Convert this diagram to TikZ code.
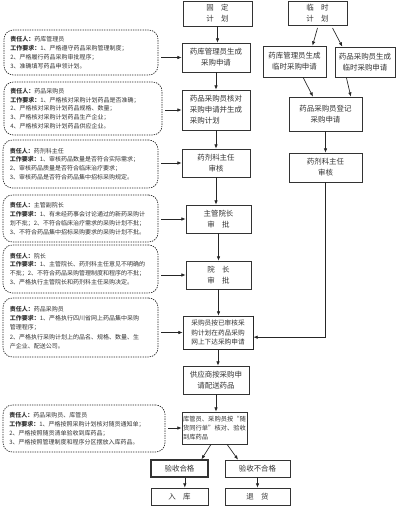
\documentclass[tikz,border=0pt]{standalone}
\usepackage{fontspec}
\setmainfont{Liberation Serif}
\newfontfamily\cjk{Noto Sans CJK SC}
\usetikzlibrary{arrows.meta,calc}
\begin{document}
\begin{tikzpicture}[x=0.75pt,y=-0.75pt,
  wh/.style n args={2}{minimum width=#1*0.75pt,minimum height=#2*0.75pt},
  box/.style={draw=black!80,line width=0.5pt,align=center,inner sep=0pt,text=black!80,
    font=\cjk\fontsize{5.6}{8.2}\selectfont},
  note/.style={draw=black!85,dash pattern=on 1pt off 0.8pt,line width=0.5pt,
    rounded corners=7pt,align=left,inner sep=0pt,text=black!80,
    font=\cjk\fontsize{4.5}{6.6}\selectfont},
  arr/.style={-{Latex[length=3.2pt,width=2.6pt]},line width=0.5pt,draw=black!85}]
\useasboundingbox (0,0) rectangle (400,506);
% main column
\node[box,wh={69}{25}] (b1) at (217.5,13.5) {固\quad 定\\计\quad 划};
\node[box,wh={68}{29}] (b2) at (216,57.5) {药库管理员生成\\采购申请};
\node[box,wh={68}{40},align=left] (b3) at (216,110) {药品采购员核对\\采购申请并生成\\采购计划};
\node[box,wh={68}{28}] (b4) at (216,163) {药剂科主任\\审核};
\node[box,wh={65}{28}] (b5) at (218.5,219) {主管院长\\审\quad 批};
\node[box,wh={65}{28}] (b6) at (218.5,275) {院\quad 长\\审\quad 批};
\node[box,wh={70}{33},font=\cjk\fontsize{5}{7}\selectfont] (b7) at (218,332.5) {采购员按已审核采\\购计划在药品采购\\网上下达采购申请};
\node[box,wh={66}{28}] (b8) at (216,380) {供应商按采购申\\请配送药品};
\node[box,wh={65}{32},align=left,font=\cjk\fontsize{4.7}{6.8}\selectfont] (b9) at (214.5,428) {库管员、采购员按“随\\货同行单”核对、验收\\到库药品};
\node[box,wh={57}{17},line width=1pt] (b10) at (179.5,468.5) {验收合格};
\node[box,wh={65}{17}] (b11) at (257.5,468.5) {验收不合格};
\node[box,wh={57}{17}] (b12) at (179.5,496.5) {入\quad 库};
\node[box,wh={65}{17}] (b13) at (257.5,496.5) {退\quad 货};
\draw[line width=1pt,black!85] (b7.north east) -- (b7.south east) -- (b7.south west);
% right column
\node[box,wh={59}{24}] (r1) at (317.5,13) {临\quad 时\\计\quad 划};
\node[box,wh={63}{31}] (r2a) at (294.5,61.5) {药库管理员生成\\临时采购申请};
\node[box,wh={60}{30}] (r2b) at (365,62) {药品采购员生成\\临时采购申请};
\node[box,wh={73}{34}] (r3) at (325.5,114) {药品采购员登记\\采购申请};
\node[box,wh={73}{29}] (r4) at (325.5,167.5) {药剂科主任\\审核};
% notes
\node[note,wh={154}{45},text width=106pt] (L1) at (81,52.5) {\textbf{责任人：}药库管理员\\\textbf{工作要求：}1、严格遵守药品采购管理制度；\\2、严格履行药品采购审批程序；\\3、准确填写药品申领计划。};
\node[note,wh={158}{53},text width=109pt] (L2) at (83,108.5) {\textbf{责任人：}药品采购员\\\textbf{工作要求：}1、严格核对采购计划药品是否准确；\\2、严格核对采购计划药品规格、数量；\\3、严格核对采购计划药品生产企业；\\4、严格核对采购计划药品供应企业。};
\node[note,wh={155}{48},text width=106pt] (L3) at (80.5,164) {\textbf{责任人：}药剂科主任\\\textbf{工作要求：}1、审核药品数量是否符合实际需求；\\2、审核药品质量是否符合临床治疗要求；\\3、审核药品是否符合药品集中招标采购规定。};
\node[note,wh={155}{47},text width=106pt] (L4) at (80.5,218.5) {\textbf{责任人：}主管副院长\\\textbf{工作要求：}1、有未经药事会讨论通过的新药采购计\\划不批；2、不符合临床治疗需求的采购计划不批；\\3、不符合药品集中招标采购要求的采购计划不批。};
\node[note,wh={155}{48},text width=106pt] (L5) at (80.5,269) {\textbf{责任人：}院长\\\textbf{工作要求：}1、主管院长、药剂科主任意见不明确的\\不批；2、不符合药品采购管理制度和程序的不批；\\3、严格执行主管院长和药剂科主任采购决定。};
\node[note,wh={155}{59},text width=106pt,font=\cjk\fontsize{4.5}{7}\selectfont] (L6) at (80.5,327.5) {\textbf{责任人：}药品采购员\\\textbf{工作要求：}1、严格执行四川省网上药品集中采购\\管理程序；\\2、严格执行采购计划上的品名、规格、数量、生\\产企业、配送公司。};
\node[note,wh={162}{47},text width=112pt] (L7) at (84,428.5) {\textbf{责任人：}药品采购员、库管员\\\textbf{工作要求：}1、严格按照采购计划核对随货通知单；\\2、严格按照随货清单验收到库药品；\\3、严格按照管理制度和程序分区摆放入库药品。};
% main arrows
\draw[arr] (b1.south) -- (b1.south |- b2.north);
\draw[arr] (b2.south) -- (b2.south |- b3.north);
\draw[arr] (b3.south) -- (b3.south |- b4.north);
\draw[arr] (b4.south) -- (b4.south |- b5.north);
\draw[arr] (b5.south) -- (b5.south |- b6.north);
\draw[arr] (b6.south) -- (b6.south |- b7.north);
\draw[arr] (b7.south) -- (b7.south |- b8.north);
\draw[arr] (b8.south) -- (b8.south |- b9.north);
\draw[arr] ([xshift=-2.6pt]b9.south) -- ([xshift=16.5pt]b10.north);
\draw[arr] ([xshift=9.4pt]b9.south) -- ([xshift=-14.6pt]b11.north);
\draw[arr] ([xshift=4pt]b10.south) -- ([xshift=4pt]b10.south |- b12.north);
\draw[arr] (b11.south) -- (b11.south |- b13.north);
% right arrows
\draw[arr] ([yshift=-2pt]r1.south) -- ([xshift=13.5pt]r2a.north);
\draw[arr] ([xshift=11.25pt,yshift=-2pt]r1.south) -- ([xshift=-17pt]r2b.north);
\draw[arr] ([xshift=6.4pt]r2a.south) -- ([xshift=-9.4pt]r3.north);
\draw[arr] ([xshift=-14pt]r2b.south) -- ([xshift=19pt]r3.north);
\draw[arr] (r3.south) -- (r3.south |- r4.north);
\draw[arr] (r4.south) |- ([yshift=-3.5pt]b7.east);
% note arrows
\draw[arr] ([xshift=2pt]L1.east |- b2.west) -- (b2.west);
\draw[arr] ([xshift=2pt]L2.east |- b3.west) -- (b3.west);
\draw[arr] ([xshift=2pt]L3.east |- b4.west) -- (b4.west);
\draw[arr] ([xshift=2pt]L4.east |- b5.west) -- (b5.west);
\draw[arr] ([xshift=2pt]L5.east |- b6.west) -- (b6.west);
\draw[arr] ([xshift=2pt]L6.east |- b7.west) -- (b7.west);
\draw[arr] ([xshift=2pt]L7.east |- b9.west) -- (b9.west);
\end{tikzpicture}
\end{document}
